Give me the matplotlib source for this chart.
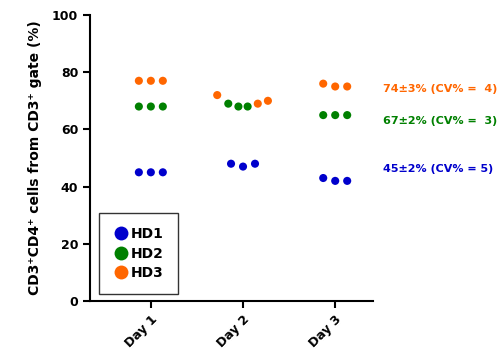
import numpy as np
import matplotlib
matplotlib.use('Agg')
import matplotlib.pyplot as plt
from matplotlib.lines import Line2D

# data
days = ['Day 1', 'Day 2', 'Day 3']
donors = ['HD1', 'HD2', 'HD3']
colors = ['#0000CC', '#008000', '#FF6600']

hd1 = [[45, 45, 45], [48, 47, 48], [43, 42, 42]]
hd2 = [[68, 68, 68], [69, 68, 68], [65, 65, 65]]
hd3 = [[77, 77, 77], [72, 69, 70], [76, 75, 75]]
summaries = ['45\u00b12% (CV% = 5)', '67\u00b12% (CV% =  3)', '74\u00b13% (CV% =  4)']

# where the summary labels sit (y, data units)
summary_pos = [46, 63, 74]

# horizontal jitter of replicate dots (day 2 points are spread out)
offsets = {
    'HD1': [[-0.13, 0, 0.13], [-0.13, 0, 0.13], [-0.13, 0, 0.13]],
    'HD2': [[-0.13, 0, 0.13], [-0.16, -0.05, 0.05], [-0.13, 0, 0.13]],
    'HD3': [[-0.13, 0, 0.13], [-0.28, 0.16, 0.27], [-0.13, 0, 0.13]],
}

plt.rcParams['font.family'] = 'DejaVu Sans'
plt.rcParams['font.weight'] = 'bold'

fig = plt.figure(figsize=(4.99, 3.52), dpi=100)
ax = fig.add_axes([90 / 499, 1 - 301 / 352, 283 / 499, 286 / 352])

for name, vals, col in zip(donors, [hd1, hd2, hd3], colors):
    for i, day_vals in enumerate(vals):
        xs = np.array(offsets[name][i]) + i + 1
        ax.scatter(xs, day_vals, s=34, color=col, edgecolors='none', zorder=3)

for txt, yv, col in zip(summaries, summary_pos, colors):
    ax.text(3.52, yv, txt, color=col, fontsize=8, fontweight='bold',
            va='center', ha='left', clip_on=False)

ax.set_xlim(0.34, 3.41)
ax.set_ylim(0, 100)
ax.set_yticks([0, 20, 40, 60, 80, 100])
ax.set_xticks([1, 2, 3])
ax.set_xticklabels(days, rotation=45, ha='right', rotation_mode='anchor')
ax.tick_params(labelsize=9, width=1.5, length=5, direction='out')
for lab in ax.get_xticklabels() + ax.get_yticklabels():
    lab.set_fontweight('bold')
for s in ['top', 'right']:
    ax.spines[s].set_visible(False)
for s in ['left', 'bottom']:
    ax.spines[s].set_linewidth(1.5)

ax.set_ylabel('CD3\u207aCD4\u207a cells from CD3\u207a gate (%)', fontsize=10,
              fontweight='bold', labelpad=7)

handles = [Line2D([], [], marker='o', linestyle='none', markersize=10,
                  markerfacecolor=c, markeredgecolor='none') for c in colors]
leg = ax.legend(handles, donors, loc='lower left', bbox_to_anchor=(0.032, 0.024),
                borderaxespad=0, frameon=True, fancybox=False, edgecolor='black',
                fontsize=10, handletextpad=0.2, borderpad=1.0, labelspacing=0.4,
                handlelength=1.1)
leg.get_frame().set_linewidth(1.0)
for t in leg.get_texts():
    t.set_fontweight('bold')

fig.savefig('out.png', dpi=100)
